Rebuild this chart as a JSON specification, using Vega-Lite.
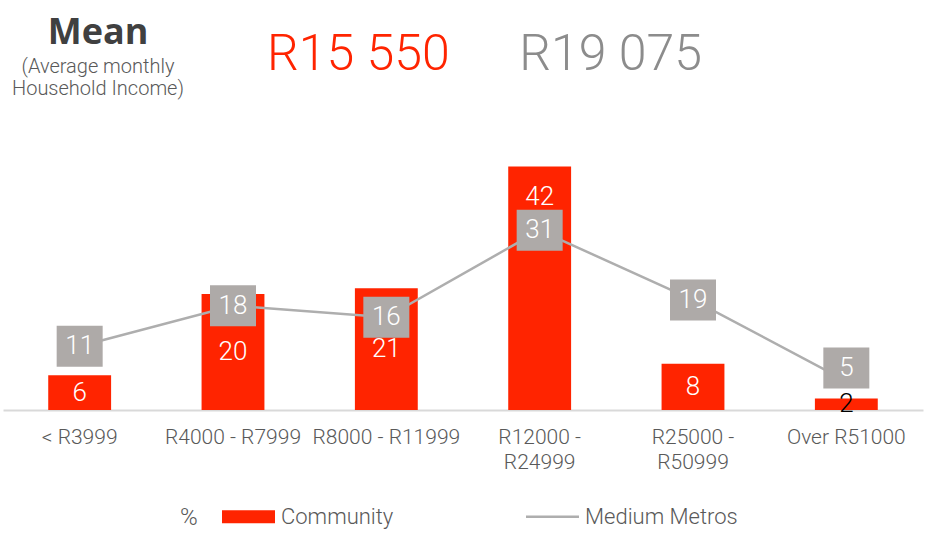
{
  "$schema": "https://vega.github.io/schema/vega-lite/v6.json",
  "width": 920,
  "height": 255,
  "autosize": {"type": "none"},
  "padding": {"left": 3, "top": 155, "right": 14, "bottom": 125},
  "background": "white",
  "title": {
    "text": "Mean",
    "subtitle": ["(Average monthly", "Household Income)"],
    "anchor": "start",
    "align": "center",
    "dx": 95,
    "offset": -70,
    "frame": "group",
    "font": "Open Sans",
    "fontSize": 36,
    "fontWeight": "bold",
    "color": "#404040",
    "subtitleFont": "Roboto",
    "subtitleFontSize": 20,
    "subtitleFontWeight": 300,
    "subtitleColor": "#595959",
    "subtitleLineHeight": 22,
    "subtitlePadding": 5
  },
  "data": {
    "values": [
      {"cat": "< R3999", "community": 6, "metros": 11},
      {"cat": "R4000 - R7999", "community": 20, "metros": 18},
      {"cat": "R8000 - R11999", "community": 21, "metros": 16},
      {"cat": "R12000 - R24999", "community": 42, "metros": 31},
      {"cat": "R25000 - R50999", "community": 8, "metros": 19},
      {"cat": "Over R51000", "community": 2, "metros": 5}
    ]
  },
  "encoding": {
    "x": {
      "field": "cat",
      "type": "nominal",
      "sort": null,
      "scale": {"paddingInner": 0.59, "paddingOuter": 0.295},
      "axis": {
        "title": null,
        "ticks": false,
        "grid": false,
        "labelAngle": 0,
        "labelOverlap": false,
        "labelBound": false,
        "labelLimit": 300,
        "labelFont": "Roboto",
        "labelFontWeight": 300,
        "labelFontSize": 21,
        "labelColor": "#595959",
        "labelPadding": 16,
        "labelLineHeight": 25,
        "labelExpr": "(datum.label == 'R12000 - R24999' || datum.label == 'R25000 - R50999') ? [slice(datum.label, 0, 8), slice(datum.label, 9)] : datum.label",
        "domainColor": "#D9D9D9",
        "domainWidth": 2
      }
    }
  },
  "layer": [
    {
      "mark": {"type": "bar", "fill": "#FF2400"},
      "encoding": {
        "y": {"field": "community", "type": "quantitative", "scale": {"domain": [0, 44]}, "axis": null},
        "color": {
          "datum": "Community",
          "scale": {"domain": ["Community", "Medium Metros"], "range": ["#FF2400", "#AEAEAE"]},
          "legend": {
            "orient": "none",
            "legendX": 177,
            "legendY": 335,
            "direction": "horizontal",
            "title": "%",
            "titleOrient": "left",
            "titleFont": "Roboto",
            "titleFontWeight": 300,
            "titleFontSize": 24,
            "titleColor": "#595959",
            "titlePadding": 24,
            "titleBaseline": "middle",
            "labelFont": "Roboto",
            "labelFontWeight": 300,
            "labelFontSize": 22,
            "labelColor": "#595959",
            "labelOffset": 6,
            "columnPadding": 132,
            "symbolSize": 2809,
            "encode": {
              "title": {"update": {"dy": {"value": 9}}},
              "symbols": {
                "update": {
                  "shape": {"signal": "datum.value === 'Community' ? 'M-1,-0.245H1V0.245H-1Z' : 'M-1,-0.05H1V0.05H-1Z'"},
                  "fill": {"signal": "datum.value === 'Community' ? '#FF2400' : '#AEAEAE'"},
                  "stroke": {"value": "transparent"},
                  "strokeWidth": {"value": 0},
                  "opacity": {"value": 1},
                  "fillOpacity": {"value": 1}
                }
              }
            }
          }
        }
      }
    },
    {
      "transform": [
        {"calculate": "datum.community >= 30 ? datum.community - 5.3 : datum.community / 2", "as": "labelPos"}
      ],
      "mark": {"type": "text", "font": "Roboto", "fontWeight": 300, "fontSize": 26, "baseline": "middle"},
      "encoding": {
        "y": {"field": "labelPos", "type": "quantitative", "scale": {"domain": [0, 44]}},
        "text": {"field": "community", "type": "quantitative"},
        "color": {"condition": {"test": "datum.community < 3", "value": "#000000"}, "value": "#FFFFFF"}
      }
    },
    {
      "mark": {"type": "line", "strokeWidth": 2.5, "stroke": "#AEAEAE"},
      "encoding": {
        "y": {"field": "metros", "type": "quantitative", "scale": {"domain": [0, 44]}},
        "color": {"datum": "Medium Metros"}
      }
    },
    {
      "transform": [{"filter": "datum.metros >= 8"}],
      "mark": {"type": "point", "shape": "M-1,-0.891H1V0.891H-1Z", "size": 2116, "filled": true, "fill": "#AEAAA8", "opacity": 1, "strokeWidth": 0},
      "encoding": {
        "y": {"field": "metros", "type": "quantitative", "scale": {"domain": [0, 44]}}
      }
    },
    {
      "transform": [{"filter": "datum.metros >= 8"}],
      "mark": {"type": "text", "font": "Roboto", "fontWeight": 300, "fontSize": 26, "baseline": "middle", "color": "#FFFFFF"},
      "encoding": {
        "y": {"field": "metros", "type": "quantitative", "scale": {"domain": [0, 44]}},
        "text": {"field": "metros", "type": "quantitative"}
      }
    },
    {
      "transform": [{"filter": "datum.metros < 8"}],
      "mark": {"type": "point", "shape": "M-1,-0.891H1V0.891H-1Z", "size": 2116, "filled": true, "fill": "#AEAAA8", "opacity": 1, "strokeWidth": 0, "yOffset": -13},
      "encoding": {
        "y": {"field": "metros", "type": "quantitative", "scale": {"domain": [0, 44]}}
      }
    },
    {
      "transform": [{"filter": "datum.metros < 8"}],
      "mark": {"type": "text", "font": "Roboto", "fontWeight": 300, "fontSize": 26, "baseline": "middle", "color": "#FFFFFF", "yOffset": -13},
      "encoding": {
        "y": {"field": "metros", "type": "quantitative", "scale": {"domain": [0, 44]}},
        "text": {"field": "metros", "type": "quantitative"}
      }
    },
    {
      "data": {"values": [{"cat": "R8000 - R11999", "mean": "R15 550", "level": 61.3}]},
      "mark": {"type": "text", "font": "Roboto", "fontWeight": 300, "fontSize": 50, "baseline": "middle", "color": "#FF2400", "dx": -28},
      "encoding": {
        "x": {"field": "cat", "type": "nominal"},
        "y": {"field": "level", "type": "quantitative", "scale": {"domain": [0, 44]}},
        "text": {"field": "mean"}
      }
    },
    {
      "data": {"values": [{"cat": "R12000 - R24999", "mean": "R19 075", "level": 61.3}]},
      "mark": {"type": "text", "font": "Roboto", "fontWeight": 300, "fontSize": 50, "baseline": "middle", "color": "#8C8C8C", "dx": 71},
      "encoding": {
        "x": {"field": "cat", "type": "nominal"},
        "y": {"field": "level", "type": "quantitative", "scale": {"domain": [0, 44]}},
        "text": {"field": "mean"}
      }
    }
  ],
  "config": {"view": {"stroke": null}}
}
